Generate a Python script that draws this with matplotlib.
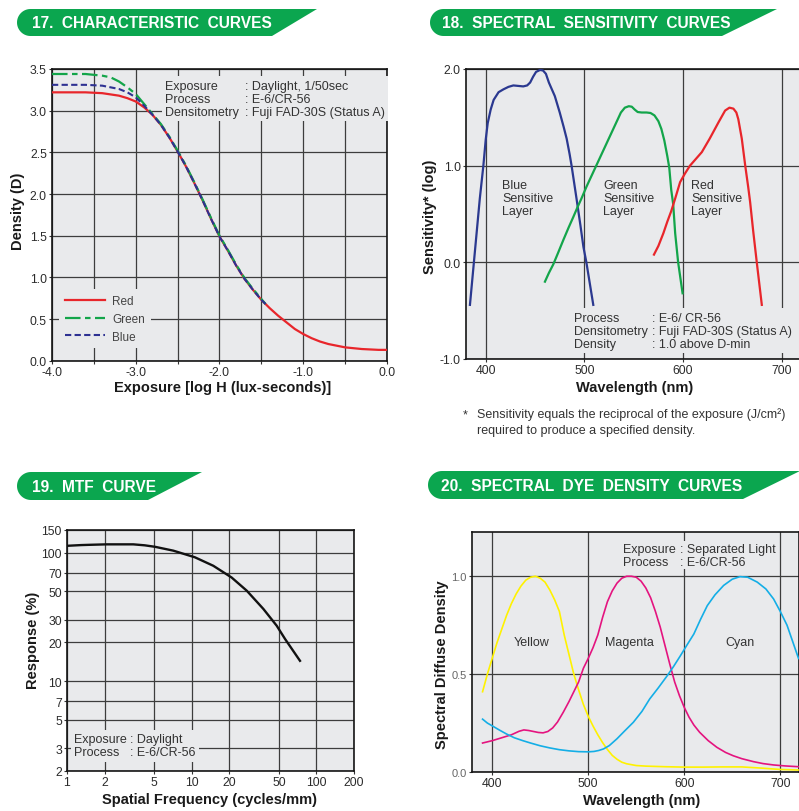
import numpy as np
import matplotlib
matplotlib.use("Agg")
import matplotlib.pyplot as plt
from matplotlib.patches import Polygon
from matplotlib.ticker import FixedLocator, NullLocator

plt.rcParams['font.family'] = ['Liberation Sans', 'DejaVu Sans']

W, H = 799, 812
BG = '#e9eaec'
GRID = '#3d3d3d'
INK = '#2b2b2b'
BANNER = '#0ba64f'

# 17. characteristic curves: exposure (log H) vs density
char_logh = [-4.0, -3.6, -3.4, -3.2, -3.1, -3.0, -2.9, -2.8, -2.7, -2.6, -2.5, -2.4,
             -2.3, -2.2, -2.1, -2.0, -1.9, -1.8, -1.7, -1.6, -1.5, -1.4, -1.3, -1.2,
             -1.1, -1.0, -0.9, -0.8, -0.7, -0.6, -0.5, -0.4, -0.3, -0.2, -0.1, 0.0]
char_red = [3.22, 3.22, 3.21, 3.18, 3.15, 3.11, 3.04, 2.95, 2.83, 2.68, 2.51, 2.33,
            2.13, 1.92, 1.70, 1.49, 1.32, 1.14, 0.98, 0.85, 0.73, 0.63, 0.54, 0.46,
            0.38, 0.32, 0.27, 0.23, 0.20, 0.18, 0.16, 0.15, 0.14, 0.135, 0.13, 0.13]
char_gb_logh = [-4.0, -3.6, -3.4, -3.3, -3.2, -3.1, -3.0, -2.9, -2.8, -2.7, -2.6, -2.5,
                -2.4, -2.3, -2.2, -2.1, -2.0, -1.9, -1.8, -1.7, -1.6, -1.5, -1.45]
char_green = [3.44, 3.44, 3.42, 3.40, 3.35, 3.28, 3.20, 3.08, 2.96, 2.84, 2.69, 2.52,
              2.34, 2.14, 1.93, 1.71, 1.50, 1.33, 1.15, 0.99, 0.86, 0.74, 0.68]
char_blue = [3.31, 3.31, 3.30, 3.28, 3.26, 3.22, 3.16, 3.06, 2.95, 2.83, 2.68, 2.51,
             2.33, 2.13, 1.92, 1.70, 1.49, 1.32, 1.14, 0.98, 0.85, 0.73, 0.68]

# 18. spectral sensitivity (wavelength nm, log sensitivity)
sens_blue_wl = [384, 388, 394, 397.6, 400, 402, 405, 408, 413, 418, 423, 428, 433, 438,
                442, 445, 448, 451, 455, 458, 461, 464, 467, 470, 475, 479, 482, 485,
                487, 492, 496, 499, 502, 505.5, 509]
sens_blue = [-0.44, 0.0, 0.66, 1.0, 1.27, 1.44, 1.58, 1.68, 1.76, 1.79, 1.815, 1.83, 1.825,
             1.82, 1.83, 1.86, 1.92, 1.97, 1.99, 1.985, 1.95, 1.86, 1.79, 1.72, 1.55, 1.4,
             1.28, 1.12, 1.0, 0.66, 0.38, 0.16, 0.0, -0.22, -0.44]
sens_green_wl = [460, 464, 468.5, 473, 478.6, 484, 488.8, 493, 497, 502, 512, 522, 532,
                 537, 541, 545, 548, 551, 554, 558, 563, 567, 571, 575, 578, 581, 584,
                 586, 588, 590, 592, 595, 599.5]
sens_green = [-0.2, -0.11, -0.02, 0.09, 0.23, 0.36, 0.47, 0.57, 0.66, 0.78, 1.0, 1.22,
              1.44, 1.55, 1.6, 1.615, 1.61, 1.58, 1.555, 1.55, 1.55, 1.545, 1.52, 1.46,
              1.38, 1.26, 1.1, 0.98, 0.75, 0.6, 0.3, 0.0, -0.32]
sens_red_wl = [570.5, 575, 580, 584, 588, 592, 597, 602, 607, 613, 619, 627, 636, 642.6,
               647, 651, 654, 656, 659.5, 663, 666, 668, 671, 674.7, 679.8]
sens_red = [0.08, 0.17, 0.3, 0.42, 0.53, 0.66, 0.83, 0.92, 1.0, 1.07, 1.14, 1.28, 1.45,
            1.57, 1.6, 1.59, 1.55, 1.48, 1.28, 1.0, 0.78, 0.62, 0.33, 0.0, -0.44]

# 19. MTF curve (cycles/mm, response %)
mtf_freq = [1.0, 1.3, 1.5, 2.08, 3.4, 4.2, 5.08, 7.12, 10.6, 14.9, 20.9, 27.6, 37.5, 48, 56, 73.8]
mtf_resp = [113, 114.5, 115, 116, 116, 114, 111, 103.6, 92, 79, 64, 50.6, 36.5, 27, 21.3, 14.4]

# 20. spectral dye density (wavelength nm, density)
dye_yellow_wl = [390, 395, 400, 405, 410, 415, 420, 425, 430, 435, 440, 445, 450, 455,
                 460, 465, 470, 475, 480, 485, 490, 495, 500, 505, 510, 515, 520, 525,
                 530, 535, 540, 550, 560, 580, 600, 620, 640, 660, 680, 700, 720]
dye_yellow = [0.41, 0.50, 0.58, 0.66, 0.73, 0.80, 0.86, 0.91, 0.95, 0.98, 0.995, 1.0,
              0.99, 0.97, 0.93, 0.88, 0.82, 0.70, 0.60, 0.50, 0.42, 0.345, 0.285, 0.235,
              0.19, 0.15, 0.115, 0.085, 0.065, 0.05, 0.042, 0.033, 0.03, 0.027, 0.025,
              0.025, 0.026, 0.026, 0.02, 0.013, 0.01]
dye_magenta_wl = [390, 400, 410, 420, 428, 433, 438, 443, 448, 453, 458, 463, 468, 474,
                  480, 485, 490, 495, 500, 505, 510, 515, 520, 525, 530, 535, 540, 545,
                  550, 555, 560, 565, 570, 575, 580, 585, 590, 595, 600, 605, 610, 616,
                  625, 634, 643, 651, 660, 672, 682, 693, 705, 719]
dye_magenta = [0.148, 0.16, 0.175, 0.19, 0.208, 0.215, 0.212, 0.207, 0.202, 0.2, 0.207,
               0.225, 0.255, 0.305, 0.36, 0.41, 0.46, 0.53, 0.58, 0.635, 0.7, 0.79, 0.87,
               0.925, 0.965, 0.99, 1.0, 1.0, 0.995, 0.975, 0.94, 0.89, 0.82, 0.74, 0.645,
               0.55, 0.46, 0.39, 0.33, 0.28, 0.24, 0.203, 0.16, 0.126, 0.1, 0.083, 0.068,
               0.053, 0.043, 0.036, 0.031, 0.027]
dye_cyan_wl = [390, 395, 401, 408, 415, 423, 432, 440, 450, 460, 470, 480, 490, 500, 506,
               511, 516, 522, 530, 538, 547, 556, 564, 573, 582, 589, 596, 603, 610, 617,
               624, 632, 641, 650, 658, 666, 676, 685, 693, 700, 707, 713, 719]
dye_cyan = [0.27, 0.25, 0.233, 0.213, 0.194, 0.175, 0.16, 0.148, 0.134, 0.123, 0.114,
            0.108, 0.104, 0.103, 0.105, 0.11, 0.118, 0.135, 0.17, 0.21, 0.254, 0.31, 0.373,
            0.43, 0.49, 0.54, 0.594, 0.65, 0.705, 0.78, 0.85, 0.905, 0.953, 0.985, 0.998,
            0.995, 0.97, 0.935, 0.884, 0.82, 0.75, 0.665, 0.58]


def px_axes(fig, left, top, right, bottom):
    return fig.add_axes([left / W, 1 - bottom / H, (right - left) / W, (bottom - top) / H])


def style(ax):
    ax.set_facecolor(BG)
    for s in ax.spines.values():
        s.set_color('#151515')
        s.set_linewidth(1.2)
    ax.tick_params(which='both', length=2.2, width=0.8, color='#333333',
                   labelsize=8.8, labelcolor=INK, pad=1.5)
    ax.grid(True, which='both', color=GRID, lw=0.9)
    ax.set_axisbelow(True)


def labels(ax, box, xlabel, xl_px, ylabel, yl_px):
    l, t, r, b = box
    ax.set_xlabel(xlabel, fontsize=10.5, fontweight='bold', color='#1a1a1a')
    ax.set_ylabel(ylabel, fontsize=10.5, fontweight='bold', color='#1a1a1a')
    ax.xaxis.set_label_coords((xl_px[0] - l) / (r - l), (b - xl_px[1]) / (b - t))
    ax.yaxis.set_label_coords((yl_px[0] - l) / (r - l), (b - yl_px[1]) / (b - t))
    ax.xaxis.label.set_va('center')
    ax.yaxis.label.set_va('center')


def note(ax, x, colon_x, y, keys, vals, fs=9, pad=2.5):
    kw = dict(va='top', ha='left', fontsize=fs, color='#333333', linespacing=1.12,
              bbox=dict(fc=BG, ec='none', pad=pad))
    ax.text(colon_x, y, "\n".join(": " + v for v in vals), zorder=4, **kw)
    ax.text(x, y, "\n".join(keys), zorder=4, **kw)


fig = plt.figure(figsize=(W / 100, H / 100), dpi=100)

# background layer for the section banners and footnote (pixel coordinates)
bg = fig.add_axes([0, 0, 1, 1], zorder=-5)
bg.set_xlim(0, W)
bg.set_ylim(H, 0)
bg.axis('off')

banners = [
    (17, 10, 317, 272, 37, 32, "17.  CHARACTERISTIC  CURVES"),
    (430, 10, 777, 722, 37, 442, "18.  SPECTRAL  SENSITIVITY  CURVES"),
    (17, 473, 202, 148, 501, 32, "19.  MTF  CURVE"),
    (428, 472, 800, 743, 500, 441, "20.  SPECTRAL  DYE  DENSITY  CURVES"),
]
for x0, top, xr, xb, bot, tx, title in banners:
    r = (bot - top) / 2
    cx, cy = x0 + r, (top + bot) / 2
    th = np.radians(np.linspace(90, 270, 30))
    pts = list(zip(cx + r * np.cos(th), cy - r * np.sin(th)))
    pts += [(xb, bot), (xr, top)]
    bg.add_patch(Polygon(pts, closed=True, fc=BANNER, ec='none'))
    bg.text(tx, cy + 0.5, title, color='white', fontsize=11.2, fontweight='bold',
            va='center', ha='left')

bg.text(463, 415, "*", fontsize=9, color='#333333', va='center')
bg.text(477, 415, "Sensitivity equals the reciprocal of the exposure (J/cm²)",
        fontsize=9, color='#333333', va='center')
bg.text(477, 431, "required to produce a specified density.",
        fontsize=9, color='#333333', va='center')

# ---- 17 ----
box17 = (52, 70, 387, 361.7)
ax = px_axes(fig, *box17)
style(ax)
ax.set_xlim(-4.0, 0.0)
ax.set_ylim(0.0, 3.5)
ax.xaxis.set_major_locator(FixedLocator([-4, -3, -2, -1, 0]))
ax.xaxis.set_minor_locator(FixedLocator([-3.5, -2.5, -1.5, -0.5]))
ax.set_xticklabels(["-4.0", "-3.0", "-2.0", "-1.0", "0.0"])
ax.yaxis.set_major_locator(FixedLocator(np.arange(0, 3.51, 0.5)))
ax.set_yticklabels([f"{v:.1f}" for v in np.arange(0, 3.51, 0.5)])
ax.plot(char_logh, char_red, color='#e8262b', lw=1.6, label='Red', zorder=3)
ax.plot(char_gb_logh, char_green, color='#13a54a', lw=1.6, ls=(0, (7, 2, 2.5, 2)),
        label='Green', zorder=3)
ax.plot(char_gb_logh, char_blue, color='#2e3192', lw=1.5, ls=(0, (3, 1.6)),
        label='Blue', zorder=3)
leg = ax.legend(loc='lower left', bbox_to_anchor=(0.022, 0.042), borderaxespad=0,
                frameon=True, fancybox=False, facecolor=BG, edgecolor='none',
                framealpha=1, fontsize=8.5, handlelength=3.4, handletextpad=0.6,
                labelspacing=0.5, borderpad=0.5)
for t in leg.get_texts():
    t.set_color('#444444')
note(ax, -2.65, -1.70, 3.37, ["Exposure", "Process", "Densitometry"],
     ["Daylight, 1/50sec", "E-6/CR-56", "Fuji FAD-30S (Status A)"])
labels(ax, box17, "Exposure [log H (lux-seconds)]", (222.5, 388), "Density (D)", (18, 211))

# ---- 18 ----
box18 = (466, 70, 799.5, 360)
ax = px_axes(fig, *box18)
style(ax)
ax.set_xlim(380, 718)
ax.set_ylim(-1.0, 2.0)
ax.xaxis.set_major_locator(FixedLocator([400, 500, 600, 700]))
ax.yaxis.set_major_locator(FixedLocator([-1.0, 0.0, 1.0, 2.0]))
ax.set_yticklabels(["-1.0", "0.0", "1.0", "2.0"])
ax.plot(sens_blue_wl, sens_blue, color='#2b3990', lw=1.6, zorder=3)
ax.plot(sens_green_wl, sens_green, color='#13a54a', lw=1.6, zorder=3)
ax.plot(sens_red_wl, sens_red, color='#e8262b', lw=1.6, zorder=3)
for x, txt in [(416.5, "Blue\nSensitive\nLayer"), (518.8, "Green\nSensitive\nLayer"),
               (608, "Red\nSensitive\nLayer")]:
    ax.text(x, 0.86, txt, va='top', ha='left', fontsize=9, color='#333333',
            linespacing=1.12)
note(ax, 489.4, 568.4, -0.51, ["Process", "Densitometry", "Density"],
     ["E-6/ CR-56", "Fuji FAD-30S (Status A)", "1.0 above D-min"])
labels(ax, box18, "Wavelength (nm)", (635, 388), "Sensitivity* (log)", (430, 217))

# ---- 19 ----
box19 = (67, 531, 354, 772)
ax = px_axes(fig, *box19)
style(ax)
ax.set_xscale('log')
ax.set_yscale('log')
ax.set_xlim(1, 200)
ax.set_ylim(2, 150)
xt = [1, 2, 5, 10, 20, 50, 100, 200]
yt = [2, 3, 5, 7, 10, 20, 30, 50, 70, 100, 150]
ax.xaxis.set_major_locator(FixedLocator(xt))
ax.xaxis.set_minor_locator(NullLocator())
ax.set_xticklabels([str(v) for v in xt])
ax.yaxis.set_major_locator(FixedLocator(yt))
ax.yaxis.set_minor_locator(NullLocator())
ax.set_yticklabels([str(v) for v in yt])
ax.plot(mtf_freq, mtf_resp, color='#111111', lw=1.7, zorder=3)
note(ax, 1.14, 3.2, 3.95, ["Exposure", "Process"], ["Daylight", "E-6/CR-56"])
labels(ax, box19, "Spatial Frequency (cycles/mm)", (210, 800), "Response (%)", (33, 640))

# ---- 20 ----
box20 = (472, 533, 799.5, 773)
ax = px_axes(fig, *box20)
style(ax)
ax.set_xlim(379, 720)
ax.set_ylim(0.0, 1.226)
ax.xaxis.set_major_locator(FixedLocator([400, 500, 600, 700]))
ax.yaxis.set_major_locator(FixedLocator([0.0, 0.5, 1.0]))
ax.set_yticklabels(["0.0", "0.5", "1.0"])
ax.tick_params(axis='y', labelsize=8, labelcolor='#666666')
ax.plot(dye_yellow_wl, dye_yellow, color='#fff200', lw=1.2, zorder=3)
ax.plot(dye_magenta_wl, dye_magenta, color='#e4147f', lw=1.2, zorder=3)
ax.plot(dye_cyan_wl, dye_cyan, color='#14aee6', lw=1.2, zorder=3)
for x, txt in [(441.4, "Yellow"), (542.5, "Magenta"), (658, "Cyan")]:
    ax.text(x, 0.664, txt, va='center', ha='center', fontsize=9, color='#333333')
note(ax, 536.3, 595.5, 1.172, ["Exposure", "Process"], ["Separated Light", "E-6/CR-56"],
     pad=1.2)
labels(ax, box20, "Wavelength (nm)", (641.7, 801), "Spectral Diffuse Density", (441.7, 665))

fig.savefig("out.png", dpi=100)
